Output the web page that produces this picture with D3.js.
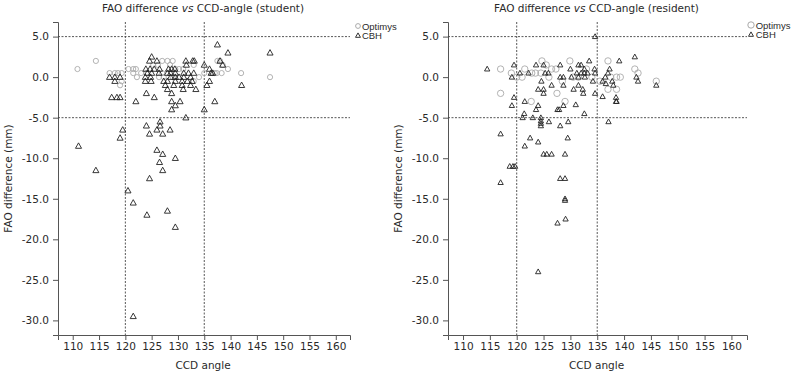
<!DOCTYPE html>
<html><head><meta charset="utf-8">
<script src="https://cdn.jsdelivr.net/npm/d3@7"></script>
<style>body{margin:0;background:#fff}svg{display:block}text{font-family:"DejaVu Sans",Verdana,sans-serif;fill:#2a2a2a}</style>
</head><body>
<svg id="c" width="793" height="374"></svg>
<script>
const xTicks = [110,115,120,125,130,135,140,145,150,155,160];
const yTicks = [5,0,-5,-10,-15,-20,-25,-30];
const refX = [120,135];
const refY = [5,-5];
const panelTitles = ["student","resident"];
const seriesNames = ["Optimys","CBH"];

const studentOptimys = [[110.9,1],[114.4,2],[117,0.5],[118,0.5],[118.6,0.5],[119.3,0.5],[119.3,-0.5],[119,-1],[120.6,1],[121.5,1],[121.5,0.5],[122.2,0],[125.3,1.5],[126.2,1.5],[127,2],[128,2],[128.5,1.5],[129,2],[129.5,1],[130.2,1],[126.4,0],[127.3,0],[129,0],[133,-0.5],[137.5,2],[138.5,1.5],[136.5,0.5],[137.4,0.5],[138.3,0.5],[139.5,1],[138,2],[142,0.5],[147.5,0],[135,0.5],[137,0.5],[123,0.5],[124,0.5],[127,0.5],[131,1],[133,1.5],[122,1],[134,0]];
const studentCBH = [[137.5,4.0],[139.5,3.0],[147.5,3.0],[125.0,2.5],[124.6,2.0],[126.0,2.0],[131.5,2.0],[132.8,2.0],[133.1,2.0],[138,2.0],[138.5,1.5],[131.6,1.5],[135,1.5],[123.9,1.0],[124.7,1.0],[125.5,1.0],[126.5,1.0],[128.2,1.0],[128.8,1.0],[129.4,1.0],[136,1.0],[124.2,0.5],[125,0.5],[126.4,0.5],[128,0.5],[128.6,0.5],[129.5,0.5],[131.1,0.5],[132,0.5],[133,0.5],[136.3,0.5],[136.6,0.5],[117,0],[118,0],[119,0],[123.8,0],[124.8,0],[128.6,0],[129.5,0],[130.2,0],[131.1,0],[132.4,0],[118,-0.5],[123.8,-0.5],[124.9,-0.5],[127.3,-0.5],[128,-0.5],[129.5,-0.5],[130.8,-0.5],[131.8,-0.5],[132.7,-0.5],[136,-0.5],[127.6,-1],[129.2,-1],[130.8,-1],[132.4,-1],[135.5,-1],[142.1,-1],[128,-1.5],[131,-1.5],[133.4,-1.5],[124,-2],[128.8,-2],[117.4,-2.5],[118.4,-2.5],[119,-2.5],[125.5,-2.5],[122,-3],[128.8,-3],[130.4,-3],[137,-3],[129.5,-3.5],[128.8,-4],[135,-4],[131.5,-5],[126.6,-5.5],[126.6,-6],[124,-6],[126,-6.5],[128.5,-6.5],[119.5,-6.5],[124.6,-7],[127.1,-7],[119,-7.5],[111.1,-8.5],[126,-9],[127.1,-9.5],[129.5,-10],[126.5,-10.5],[114.4,-11.5],[127.1,-11.5],[124.6,-12.5],[120.5,-14],[121.5,-15.5],[128,-16.5],[124.1,-17],[129.5,-18.5],[121.5,-29.5]];

const residentOptimys = [[117,1],[117,-2],[119,0.5],[120,0],[121.5,1],[124.7,2],[125.5,1.5],[122.8,0.5],[123.5,0.5],[124.5,0.5],[122.7,-3],[127.5,-2],[129,-3],[129.9,2],[126.5,1],[127.3,1],[130.5,0],[131.5,0],[133,1],[134,0],[137,2],[137.5,0],[138.6,0],[139.3,0],[138.6,-1.5],[137,-1.5],[142,1],[142.6,0.5],[146,-0.5],[128.5,-0.5],[126,0],[121,0],[135.5,-0.5]];
const residentCBH = [[134.6,5],[114.5,1],[119.5,1.5],[123.6,1.5],[125,1.5],[128.1,1.5],[133.5,2],[139.1,2],[142,2.5],[120.6,0.5],[122.2,0.5],[125.3,0.5],[125.9,0.5],[119.1,0],[130,1],[131.5,1.5],[132,1.5],[132.6,1],[131.2,0.5],[132,0.5],[132.6,0.5],[133.2,0.5],[134.5,1],[134.6,0.5],[137,0.5],[137.3,1],[128.1,0],[128.7,0],[130.2,0],[131.5,0],[132.7,0],[134.2,-0.5],[124.6,-0.5],[126.5,-1],[128.7,-1],[136,-0.5],[137.8,-0.5],[138,-1],[124,-1.5],[125,-1.5],[125,-2],[130.6,-1.5],[131.5,-1],[132.3,-1.5],[132.4,-2],[134.6,-2],[136,-2.4],[138.5,-2.5],[138.6,-3],[119.5,-2.5],[119.1,-3.5],[121.5,-3],[124,-3.5],[123.6,-4],[128.7,-3.5],[127.6,-4],[127.9,-4],[132.6,-4.5],[131,-3.4],[138.5,-3],[121.4,-4.5],[121.1,-5],[123,-5],[124.5,-5],[124.5,-5.4],[124.5,-5.7],[124.5,-6],[126,-5.5],[128.1,-6],[129.6,-5.5],[137.1,-5.5],[117,-7],[122.5,-7.5],[124,-8],[121.5,-8.5],[129.5,-7.5],[125,-9.5],[125.6,-9.5],[126.5,-9.5],[129,-9.5],[118.7,-11],[119.3,-11],[119.7,-11],[117,-13],[128.1,-12.5],[129,-12.5],[129,-15],[129,-15.2],[127.6,-18],[129.1,-17.5],[124,-24],[142.3,0],[142.6,-0.5],[146,-1],[136.5,0],[136.6,-0.8]];

const svg = d3.select("#c");
const panels = [
  {title: panelTitles[0], opt: studentOptimys, cbh: studentCBH, x0: 58, x1: 350, y0: 22, y1: 335, xd:[107.2,162.7], legX: 358, legY: 26, cr: 2.6, tr: 3.2, lr: 2.4},
  {title: panelTitles[1], opt: residentOptimys, cbh: residentCBH, x0: 448, x1: 747, y0: 22, y1: 335, xd:[107.2,162.9], legX: 751, legY: 25, cr: 3.2, tr: 2.8, lr: 3.2}
];
const tri = r => `M0,${-r}L${r*0.95},${r*0.7}L${-r*0.95},${r*0.7}Z`;

panels.forEach(p => {
  const g = svg.append("g");
  const x = d3.scaleLinear().domain(p.xd).range([p.x0, p.x1]);
  const y = d3.scaleLinear().domain([-31.8, 6.8]).range([p.y1, p.y0]);
  const cx = (p.x0 + p.x1)/2 - 1;
  const t = g.append("text").attr("x", cx).attr("y", 12).attr("text-anchor","middle").style("font-size","10.5px");
  t.append("tspan").text("FAO difference ");
  t.append("tspan").style("font-style","italic").text("vs");
  t.append("tspan").text(` CCD-angle (${p.title})`);
  const xa = g.append("g").attr("transform",`translate(0,${p.y1})`)
    .call(d3.axisBottom(x).tickValues(xTicks).tickSize(5).tickPadding(3).tickFormat(d3.format("d")));
  const ya = g.append("g").attr("transform",`translate(${p.x0},0)`)
    .call(d3.axisLeft(y).tickValues(yTicks).tickSize(5).tickPadding(4).tickFormat(d3.format(".1f")));
  [xa, ya].forEach(a => {
    a.select(".domain").attr("stroke","#555");
    a.selectAll(".tick line").attr("stroke","#555");
    a.selectAll("text").style("font-size","10.5px").attr("fill","#2a2a2a").style("font-family",'"DejaVu Sans",sans-serif');
  });
  ya.selectAll("text").text(d => d < 0 ? "-" + Math.abs(d).toFixed(1) : d.toFixed(1));
  g.append("text").attr("x", cx).attr("y", 369).attr("text-anchor","middle").style("font-size","10.5px").text("CCD angle");
  g.append("text").attr("transform",`translate(${p.x0-46},${(p.y0+p.y1)/2}) rotate(-90)`).attr("text-anchor","middle").style("font-size","10.5px").text("FAO difference (mm)");
  refX.forEach(v => g.append("line").attr("x1",x(v)).attr("x2",x(v)).attr("y1",p.y0).attr("y2",p.y1)
     .attr("stroke","#444").attr("stroke-width",0.9).attr("stroke-dasharray","2,1.5"));
  refY.forEach(v => g.append("line").attr("x1",p.x0).attr("x2",p.x1).attr("y1",y(v)).attr("y2",y(v))
     .attr("stroke","#444").attr("stroke-width",0.9).attr("stroke-dasharray","2,1.5"));
  g.append("g").selectAll("circle").data(p.opt).join("circle")
    .attr("cx", d => x(d[0])).attr("cy", d => y(d[1])).attr("r", p.cr)
    .attr("fill","none").attr("stroke","#aaa").attr("stroke-width",0.9);
  g.append("g").selectAll("path").data(p.cbh).join("path")
    .attr("transform", d => `translate(${x(d[0])},${y(d[1])})`).attr("d", tri(p.tr))
    .attr("fill","none").attr("stroke","#222").attr("stroke-width",0.9);
  const lg = g.append("g").attr("transform",`translate(${p.legX},${p.legY})`);
  lg.append("circle").attr("cx",0).attr("cy",0).attr("r",p.lr).attr("fill","none").attr("stroke","#aaa");
  lg.append("text").attr("x",p.lr+1.5).attr("y",3.5).style("font-family",'"Liberation Sans",Arial,sans-serif').style("font-size","9.5px").text(seriesNames[0]);
  lg.append("path").attr("transform","translate(0,9.5)").attr("d",tri(2.6)).attr("fill","none").attr("stroke","#333");
  lg.append("text").attr("x",p.lr+1.5).attr("y",13).style("font-family",'"Liberation Sans",Arial,sans-serif').style("font-size","9.5px").text(seriesNames[1]);
});
</script>
</body></html>
